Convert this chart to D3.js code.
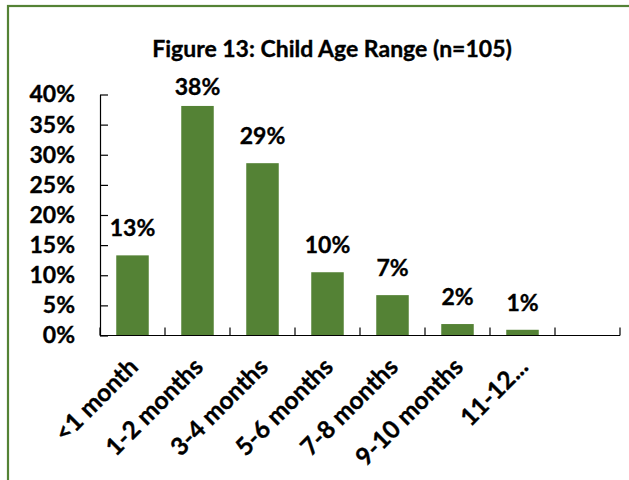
<!DOCTYPE html>
<html>
<head>
<meta charset="utf-8">
<script src="https://cdn.jsdelivr.net/npm/d3@7"></script>
<style>
  html, body { margin: 0; padding: 0; background: #fff; }
  svg text { font-family: Lato, "Open Sans", sans-serif; font-weight: bold; fill: #000;
             stroke: #000; stroke-width: 0.35px; }
</style>
</head>
<body>
<div id="chart"></div>
<script>
// chart data
const categories = ['<1 month', '1-2 months', '3-4 months', '5-6 months', '7-8 months', '9-10 months', '11-12...', ''];
const shares = [0.133, 0.381, 0.286, 0.105, 0.067, 0.019, 0.0095];
const shareLabels = ['13%', '38%', '29%', '10%', '7%', '2%', '1%'];
const yTicks = [0, 0.05, 0.10, 0.15, 0.20, 0.25, 0.30, 0.35, 0.40];
const title = 'Figure 13: Child Age Range (n=105)';

const width = 629, height = 480;
const barColor = '#548235';
const fontSize = '23px';

const svg = d3.select('#chart')
    .append('svg')
    .attr('width', width)
    .attr('height', height);

// green frame (runs off the right and bottom edges)
svg.append('rect')
    .attr('x', 8)
    .attr('y', 6)
    .attr('width', 700)
    .attr('height', 600)
    .attr('fill', 'none')
    .attr('stroke', barColor)
    .attr('stroke-width', 2.2);

const x = d3.scaleBand()
    .domain(categories.map((c, i) => i))
    .range([100, 620])
    .paddingInner(0.5)
    .paddingOuter(0.25);

const y = d3.scaleLinear()
    .domain([0, 0.40])
    .range([335.5, 94.5]);

// title
svg.append('text')
    .attr('x', 332)
    .attr('y', 56.5)
    .attr('text-anchor', 'middle')
    .style('font-size', fontSize)
    .text(title);

// bars
svg.selectAll('.bar')
    .data(shares)
    .enter()
    .append('rect')
    .attr('class', 'bar')
    .attr('x', (d, i) => x(i))
    .attr('y', d => y(d))
    .attr('width', x.bandwidth())
    .attr('height', d => y(0) - y(d))
    .attr('fill', barColor);

// data labels, kept inside the plot top like Excel does
svg.selectAll('.bar-label')
    .data(shares)
    .enter()
    .append('text')
    .attr('class', 'bar-label')
    .attr('x', (d, i) => x(i) + x.bandwidth() / 2)
    .attr('y', d => Math.max(y(d) - 19, y(0.40) + 0.5))
    .attr('text-anchor', 'middle')
    .style('font-size', fontSize)
    .text((d, i) => shareLabels[i]);

// y axis
const yAxis = svg.append('g')
    .attr('transform', 'translate(100,0)')
    .call(d3.axisLeft(y)
        .tickValues(yTicks)
        .tickSize(-8)
        .tickSizeOuter(0)
        .tickFormat(d3.format('.0%')));

// x axis: ticks sit on the category boundaries
const bounds = d3.range(categories.length + 1).map(i => 100 + i * x.step());
const xAxis = svg.append('g')
    .attr('transform', `translate(0,${y(0)})`);
xAxis.append('line')
    .attr('x1', 100)
    .attr('x2', 620)
    .attr('stroke', '#000');
xAxis.selectAll('.xtick')
    .data(bounds)
    .enter()
    .append('line')
    .attr('class', 'xtick')
    .attr('x1', d => d)
    .attr('x2', d => d)
    .attr('y1', 0)
    .attr('y2', -8)
    .attr('stroke', '#000');

xAxis.selectAll('.xlabel')
    .data(categories)
    .enter()
    .append('text')
    .attr('class', 'xlabel')
    .attr('text-anchor', 'end')
    .attr('transform', (d, i) => `translate(${x(i) + x.bandwidth() / 2 + 7},33) rotate(-45)`)
    .style('font-size', '24.5px')
    .text(d => d);

yAxis.select('.domain').attr('stroke', '#000').attr('stroke-width', 1.2);
yAxis.selectAll('.tick line').attr('stroke', '#000').attr('stroke-width', 1.2);
yAxis.selectAll('.tick text')
    .attr('x', -25)
    .style('font-size', fontSize)
    .style('font-family', 'Lato, sans-serif');
xAxis.selectAll('line').attr('stroke-width', 1.2);
</script>
</body>
</html>
